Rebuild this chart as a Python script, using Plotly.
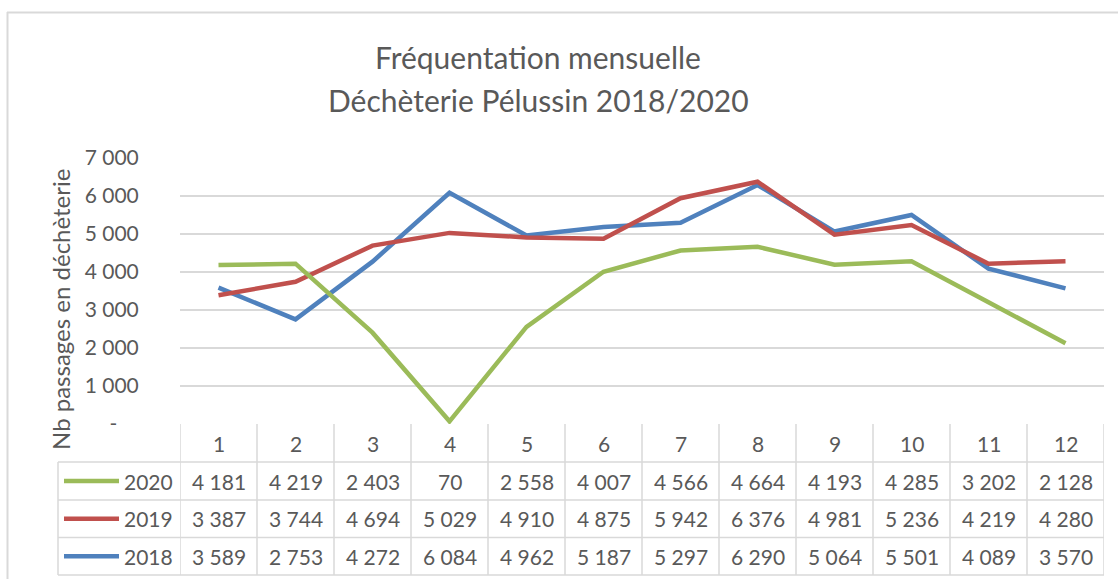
import plotly.graph_objects as go

months = [1, 2, 3, 4, 5, 6, 7, 8, 9, 10, 11, 12]
series_names = ["2020", "2019", "2018"]
v2020 = [4181, 4219, 2403, 70, 2558, 4007, 4566, 4664, 4193, 4285, 3202, 2128]
v2019 = [3387, 3744, 4694, 5029, 4910, 4875, 5942, 6376, 4981, 5236, 4219, 4280]
v2018 = [3589, 2753, 4272, 6084, 4962, 5187, 5297, 6290, 5064, 5501, 4089, 3570]
colors = ["#9BBB59", "#C0504D", "#4F81BD"]
y_ticks = [0, 1000, 2000, 3000, 4000, 5000, 6000, 7000]
y_ticktext = ["-\u00a0\u00a0\u00a0\u00a0", "1 000", "2 000", "3 000", "4 000", "5 000", "6 000", "7 000"]
title_lines = ["Fréquentation mensuelle", "Déchèterie Pélussin 2018/2020"]
y_title = "Nb passages en déchèterie"

series_values = [v2020, v2019, v2018]

FONT = "Lato"
TXT = "#595959"
GRID = "#d9d9d9"

# pixel geometry of plot area
W, H = 1118, 579
PX0, PX1 = 180, 1104
PY_TOP, PY_BOT = 158, 424
PW, PH = PX1 - PX0, PY_BOT - PY_TOP


def px(x):
    return (x - PX0) / PW


def py(y):
    return (PY_BOT - y) / PH


fig = go.Figure()
for name, vals, col in zip(series_names[::-1], series_values[::-1], colors[::-1]):
    fig.add_trace(go.Scatter(x=months, y=vals, mode="lines", name=name,
                             line=dict(color=col, width=4.5), showlegend=False))

shapes = []
annotations = []
row_bounds = [424, 462, 500, 537.5, 575]
table_left = 58

for k in range(len(months) + 1):
    shapes.append(dict(type="line", xref="x", yref="paper", x0=k + 0.5, x1=k + 0.5,
                       y0=py(row_bounds[0]), y1=py(row_bounds[-1]),
                       line=dict(color=GRID, width=1.5)))
shapes.append(dict(type="line", xref="paper", yref="paper", x0=px(table_left), x1=px(table_left),
                   y0=py(row_bounds[1]), y1=py(row_bounds[-1]), line=dict(color=GRID, width=1.5)))
for rb in row_bounds[1:]:
    shapes.append(dict(type="line", xref="paper", yref="paper", x0=px(table_left), x1=1,
                       y0=py(rb), y1=py(rb), line=dict(color=GRID, width=1.5)))

hc = (row_bounds[0] + row_bounds[1]) / 2
for m in months:
    annotations.append(dict(x=m, y=py(hc), xref="x", yref="paper", text=str(m),
                            xanchor="center", yanchor="middle",
                            showarrow=False, font=dict(family=FONT, size=21, color=TXT)))

for i, (name, vals, col) in enumerate(zip(series_names, series_values, colors)):
    rc = (row_bounds[i + 1] + row_bounds[i + 2]) / 2
    for m, v in zip(months, vals):
        annotations.append(dict(x=m, y=py(rc), xref="x", yref="paper",
                                text=f"{v:,}".replace(",", " "), showarrow=False,
                                xanchor="center", yanchor="middle",
                                font=dict(family=FONT, size=21, color=TXT)))
    shapes.append(dict(type="line", xref="paper", yref="paper", x0=px(64), x1=px(119),
                       y0=py(rc), y1=py(rc), line=dict(color=col, width=4.5)))
    annotations.append(dict(x=px(175), y=py(rc), xref="paper", yref="paper", text=name,
                            xanchor="right", yanchor="middle", showarrow=False,
                            font=dict(family=FONT, size=21, color=TXT)))

annotations.append(dict(x=px(60), y=py(310), xref="paper", yref="paper", text=y_title,
                        textangle=-90, showarrow=False, xanchor="center", yanchor="middle",
                        font=dict(family=FONT, size=24, color=TXT)))

for line_text, yc in zip(title_lines, [57, 100]):
    annotations.append(dict(x=px(538), y=py(yc), xref="paper", yref="paper", text=line_text,
                            showarrow=False, xanchor="center", yanchor="middle",
                            font=dict(family=FONT, size=30, color=TXT)))

shapes.append(dict(type="line", xref="paper", yref="paper", x0=px(7), x1=px(1118),
                   y0=py(12.5), y1=py(12.5), line=dict(color=GRID, width=2)))
shapes.append(dict(type="line", xref="paper", yref="paper", x0=px(7.5), x1=px(7.5),
                   y0=py(12), y1=py(579), line=dict(color=GRID, width=2)))

fig.update_layout(
    width=W, height=H,
    margin=dict(l=PX0, r=W - PX1, t=PY_TOP, b=H - PY_BOT),
    paper_bgcolor="white", plot_bgcolor="white",
    xaxis=dict(range=[0.5, 12.5], showticklabels=False, showgrid=False, zeroline=False,
               showline=False, ticks=""),
    yaxis=dict(range=[0, 7000], tickvals=y_ticks, ticktext=y_ticktext, showgrid=True,
               gridcolor=GRID, gridwidth=1.5, zeroline=False, showline=False,
               ticks="outside", ticklen=36, tickcolor="rgba(0,0,0,0)",
               tickfont=dict(family=FONT, size=21, color=TXT)),
    shapes=shapes, annotations=annotations,
)

fig.write_html("out.html", config={"displayModeBar": False},
               post_script="document.body.style.margin='0';document.body.style.overflow='hidden';")
